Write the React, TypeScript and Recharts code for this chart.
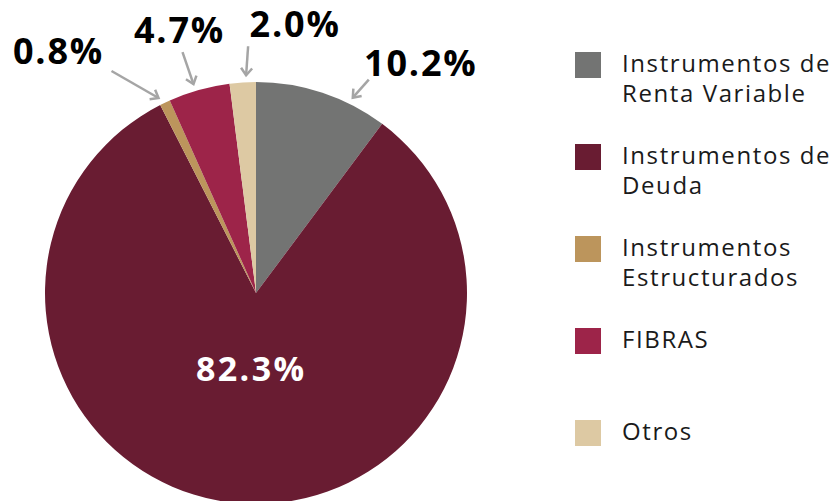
import { PieChart, Pie, Cell, Legend } from 'recharts';

const categories = [
  'Instrumentos de Renta Variable',
  'Instrumentos de Deuda',
  'Instrumentos Estructurados',
  'FIBRAS',
  'Otros',
];
const shares = [10.2, 82.3, 0.8, 4.7, 2.0];
const legendLines = [
  ['Instrumentos de', 'Renta Variable'],
  ['Instrumentos de', 'Deuda'],
  ['Instrumentos', 'Estructurados'],
  ['FIBRAS'],
  ['Otros'],
];
const colors = ['#737473', '#691C32', '#BC955C', '#9D2449', '#DDC9A3'];

// callout tweaks per slice: arrow tip angle shift, tail offset from tip, text offset from tip
const callouts: ({ shift: number; tail: number[]; text: number[] } | null)[] = [
  { shift: -8, tail: [16, -18], text: [68, -22] },
  null,
  { shift: 1, tail: [-47, -27], text: [-100, -34] },
  { shift: 1, tail: [-11, -32], text: [-14, -41] },
  { shift: -1, tail: [2, -29], text: [49, -38] },
];

const FONT = '"Open Sans", sans-serif';
const RAD = Math.PI / 180;

const data = categories.map((name, i) => ({ name, value: shares[i] }));

function renderLabel(props: any) {
  const { cx, cy, midAngle, outerRadius, index, value } = props;
  const text = `${Number(value).toFixed(1)}%`;
  const c = callouts[index];
  if (!c) {
    const x = cx + 80 * Math.cos(-midAngle * RAD);
    const y = cy + 80 * Math.sin(-midAngle * RAD);
    return (
      <text x={x + 2} y={y + 8} textAnchor="middle" fill="#fff" fontFamily={FONT} fontWeight={700} fontSize={34} letterSpacing={2.4}>
        {text}
      </text>
    );
  }
  const a = (midAngle + c.shift) * RAD;
  const r = outerRadius + 7;
  const tx = cx + r * Math.cos(-a);
  const ty = cy + r * Math.sin(-a);
  const sx = tx + c.tail[0];
  const sy = ty + c.tail[1];
  const len = Math.hypot(tx - sx, ty - sy);
  const ux = (tx - sx) / len;
  const uy = (ty - sy) / len;
  const w = 9;
  const ang = 38 * RAD;
  const w1x = tx - w * (ux * Math.cos(ang) - uy * Math.sin(ang));
  const w1y = ty - w * (uy * Math.cos(ang) + ux * Math.sin(ang));
  const w2x = tx - w * (ux * Math.cos(-ang) - uy * Math.sin(-ang));
  const w2y = ty - w * (uy * Math.cos(-ang) + ux * Math.sin(-ang));
  return (
    <g>
      <line x1={sx} y1={sy} x2={tx} y2={ty} stroke="#A5A5A5" strokeWidth={2.5} />
      <polyline points={`${w1x},${w1y} ${tx},${ty} ${w2x},${w2y}`} fill="none" stroke="#A5A5A5" strokeWidth={2.5} />
      <text x={tx + c.text[0]} y={ty + c.text[1]} textAnchor="middle" fill="#000" fontFamily={FONT} fontWeight={700} fontSize={36} letterSpacing={1.8}>
        {text}
      </text>
    </g>
  );
}

function renderLegend() {
  return (
    <div style={{ fontFamily: FONT, fontSize: 24, color: '#1a1a1a', letterSpacing: 1.6 }}>
      {categories.map((name, i) => (
        <div key={name} style={{ position: 'absolute', left: 0, top: i * 92, display: 'flex', alignItems: 'flex-start' }}>
          <div style={{ width: 26, height: 26, background: colors[i], flex: 'none' }} />
          <div style={{ marginLeft: 21, marginTop: -4, lineHeight: '30px', whiteSpace: 'nowrap' }}>
            {legendLines[i].map((l) => (
              <div key={l}>{l}</div>
            ))}
          </div>
        </div>
      ))}
    </div>
  );
}

export default function App() {
  return (
    <div style={{ position: 'absolute', left: 0, top: 0, width: 836, height: 501, background: '#fff', overflow: 'hidden' }}>
      <PieChart width={836} height={501} margin={{ top: 0, right: 0, bottom: 0, left: 0 }}>
        <Pie
          data={data}
          dataKey="value"
          nameKey="name"
          cx={256}
          cy={293}
          outerRadius={211}
          startAngle={90}
          endAngle={-270}
          stroke="none"
          label={renderLabel}
          labelLine={false}
          isAnimationActive={false}
        >
          {data.map((d, i) => (
            <Cell key={d.name} fill={colors[i]} />
          ))}
        </Pie>
        <Legend
          content={renderLegend}
          wrapperStyle={{ position: 'absolute', left: 575, top: 52, width: 261, height: 420 }}
        />
      </PieChart>
    </div>
  );
}
